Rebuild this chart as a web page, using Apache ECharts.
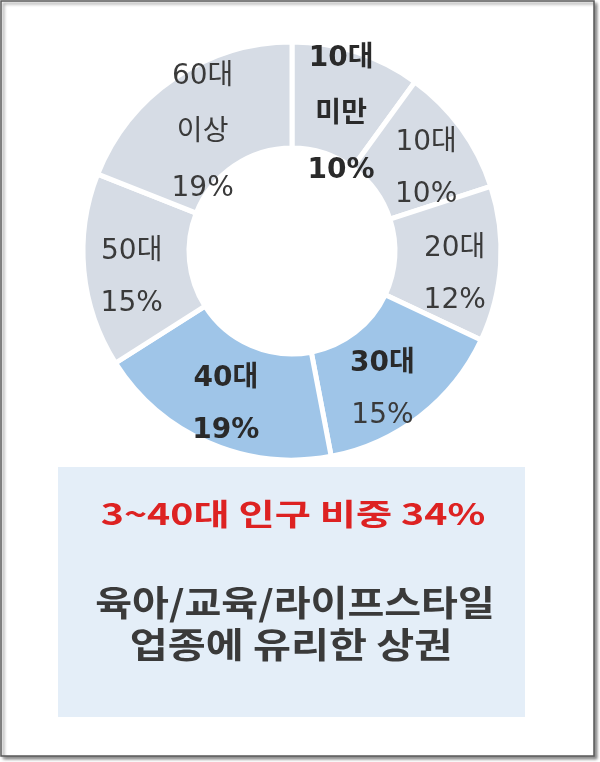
<!DOCTYPE html>
<html>
<head>
<meta charset="utf-8">
<script src="https://cdn.jsdelivr.net/npm/echarts@6/dist/echarts.min.js"></script>
<style>
html,body{margin:0;padding:0;background:#fff;}
#c{width:600px;height:762px;}
</style>
</head>
<body>
<div id="c"></div>
<script>
// ---- data ----
const categories = ['10대 미만', '10대', '20대', '30대', '40대', '50대', '60대 이상'];
const labelNames = ['10대\n미만', '10대', '20대', '30대', '40대', '50대', '60대\n이상'];
const shares = [10, 10, 12, 15, 19, 15, 19];
const highlighted = ['30대', '40대'];
const boldName = ['10대 미만', '30대', '40대'];
const boldValue = ['10대 미만', '40대'];
const headline = '3~40대 인구 비중 34%';
const noteLines = ['육아/교육/라이프스타일', '업종에 유리한 상권'];

// ---- styles ----
const GRAY = '#d6dce5';
const BLUE = '#9fc5e8';
const TXT = '#3a3a3a';
const FONT = '"DejaVu Sans", "Noto Sans CJK KR", sans-serif';
const CJK = '"Noto Sans CJK KR", sans-serif';
// label nudges (padding: top, right, bottom, left) per slice
const labelPad = [
  [30, 0, 0, 0],
  [22, 0, 0, 11],
  [28, 0, 0, 8],
  [26, 14, 0, 0],
  [16, 6, 0, 0],
  [24, 4, 0, 0],
  [26, 0, 0, 0]
];

const data = categories.map((c, i) => {
  const three = labelNames[i].includes('\n');
  const nameKey = (boldName.includes(c) ? 'nb' : 'n') + (three ? '3' : '');
  const valKey = (boldValue.includes(c) ? 'pb' : 'p') + (three ? '3' : '');
  const nameTxt = labelNames[i].split('\n').map(s => '{' + nameKey + '|' + s + '}').join('\n');
  return {
    name: c,
    value: shares[i],
    itemStyle: { color: highlighted.includes(c) ? BLUE : GRAY },
    label: { padding: labelPad[i], formatter: nameTxt + '\n{' + valKey + '|' + shares[i] + '%}' }
  };
});

const chart = echarts.init(document.getElementById('c'), null, { renderer: 'canvas' });
const base = { fontFamily: FONT, fontSize: 28, color: TXT, lineHeight: 52 };
const bold = { fontWeight: 'bold', color: '#2a2a2a' };
chart.setOption({
  animation: false,
  series: [{
    type: 'pie',
    center: [292, 251],
    radius: [103, 209],
    startAngle: 90,
    clockwise: true,
    silent: true,
    avoidLabelOverlap: false,
    itemStyle: { borderColor: '#ffffff', borderWidth: 5 },
    label: {
      show: true,
      position: 'inside',
      rich: {
        n: Object.assign({}, base),
        p: Object.assign({}, base),
        nb: Object.assign({}, base, bold),
        pb: Object.assign({}, base, bold),
        n3: Object.assign({}, base, { lineHeight: 56 }),
        p3: Object.assign({}, base, { lineHeight: 56 }),
        nb3: Object.assign({}, base, bold, { lineHeight: 56 }),
        pb3: Object.assign({}, base, bold, { lineHeight: 56 })
      }
    },
    labelLine: { show: false },
    data: data
  }],
  graphic: [
    {
      type: 'rect', z: -10,
      shape: { x: 1, y: 1, width: 593, height: 755 },
      style: { fill: '#ffffff', stroke: '#5a5a5a', lineWidth: 1.5,
               shadowBlur: 3, shadowOffsetX: 2.5, shadowOffsetY: 2.5, shadowColor: 'rgba(0,0,0,0.45)' }
    },
    {
      type: 'rect', z: -5,
      shape: { x: 58, y: 467, width: 467, height: 250 },
      style: { fill: '#e4eef8' }
    },
    {
      type: 'text', x: 293, y: 514, scaleX: 1.31,
      style: { text: headline, align: 'center', verticalAlign: 'middle',
               font: 'bold 30px ' + CJK, fill: '#dd2222' }
    },
    {
      type: 'text', x: 295, y: 603, scaleX: 1.145,
      style: { text: noteLines[0], align: 'center', verticalAlign: 'middle',
               font: 'bold 35px ' + CJK, fill: TXT }
    },
    {
      type: 'text', x: 291, y: 645, scaleX: 1.18,
      style: { text: noteLines[1], align: 'center', verticalAlign: 'middle',
               font: 'bold 35px ' + CJK, fill: TXT }
    }
  ]
});
</script>
</body>
</html>
